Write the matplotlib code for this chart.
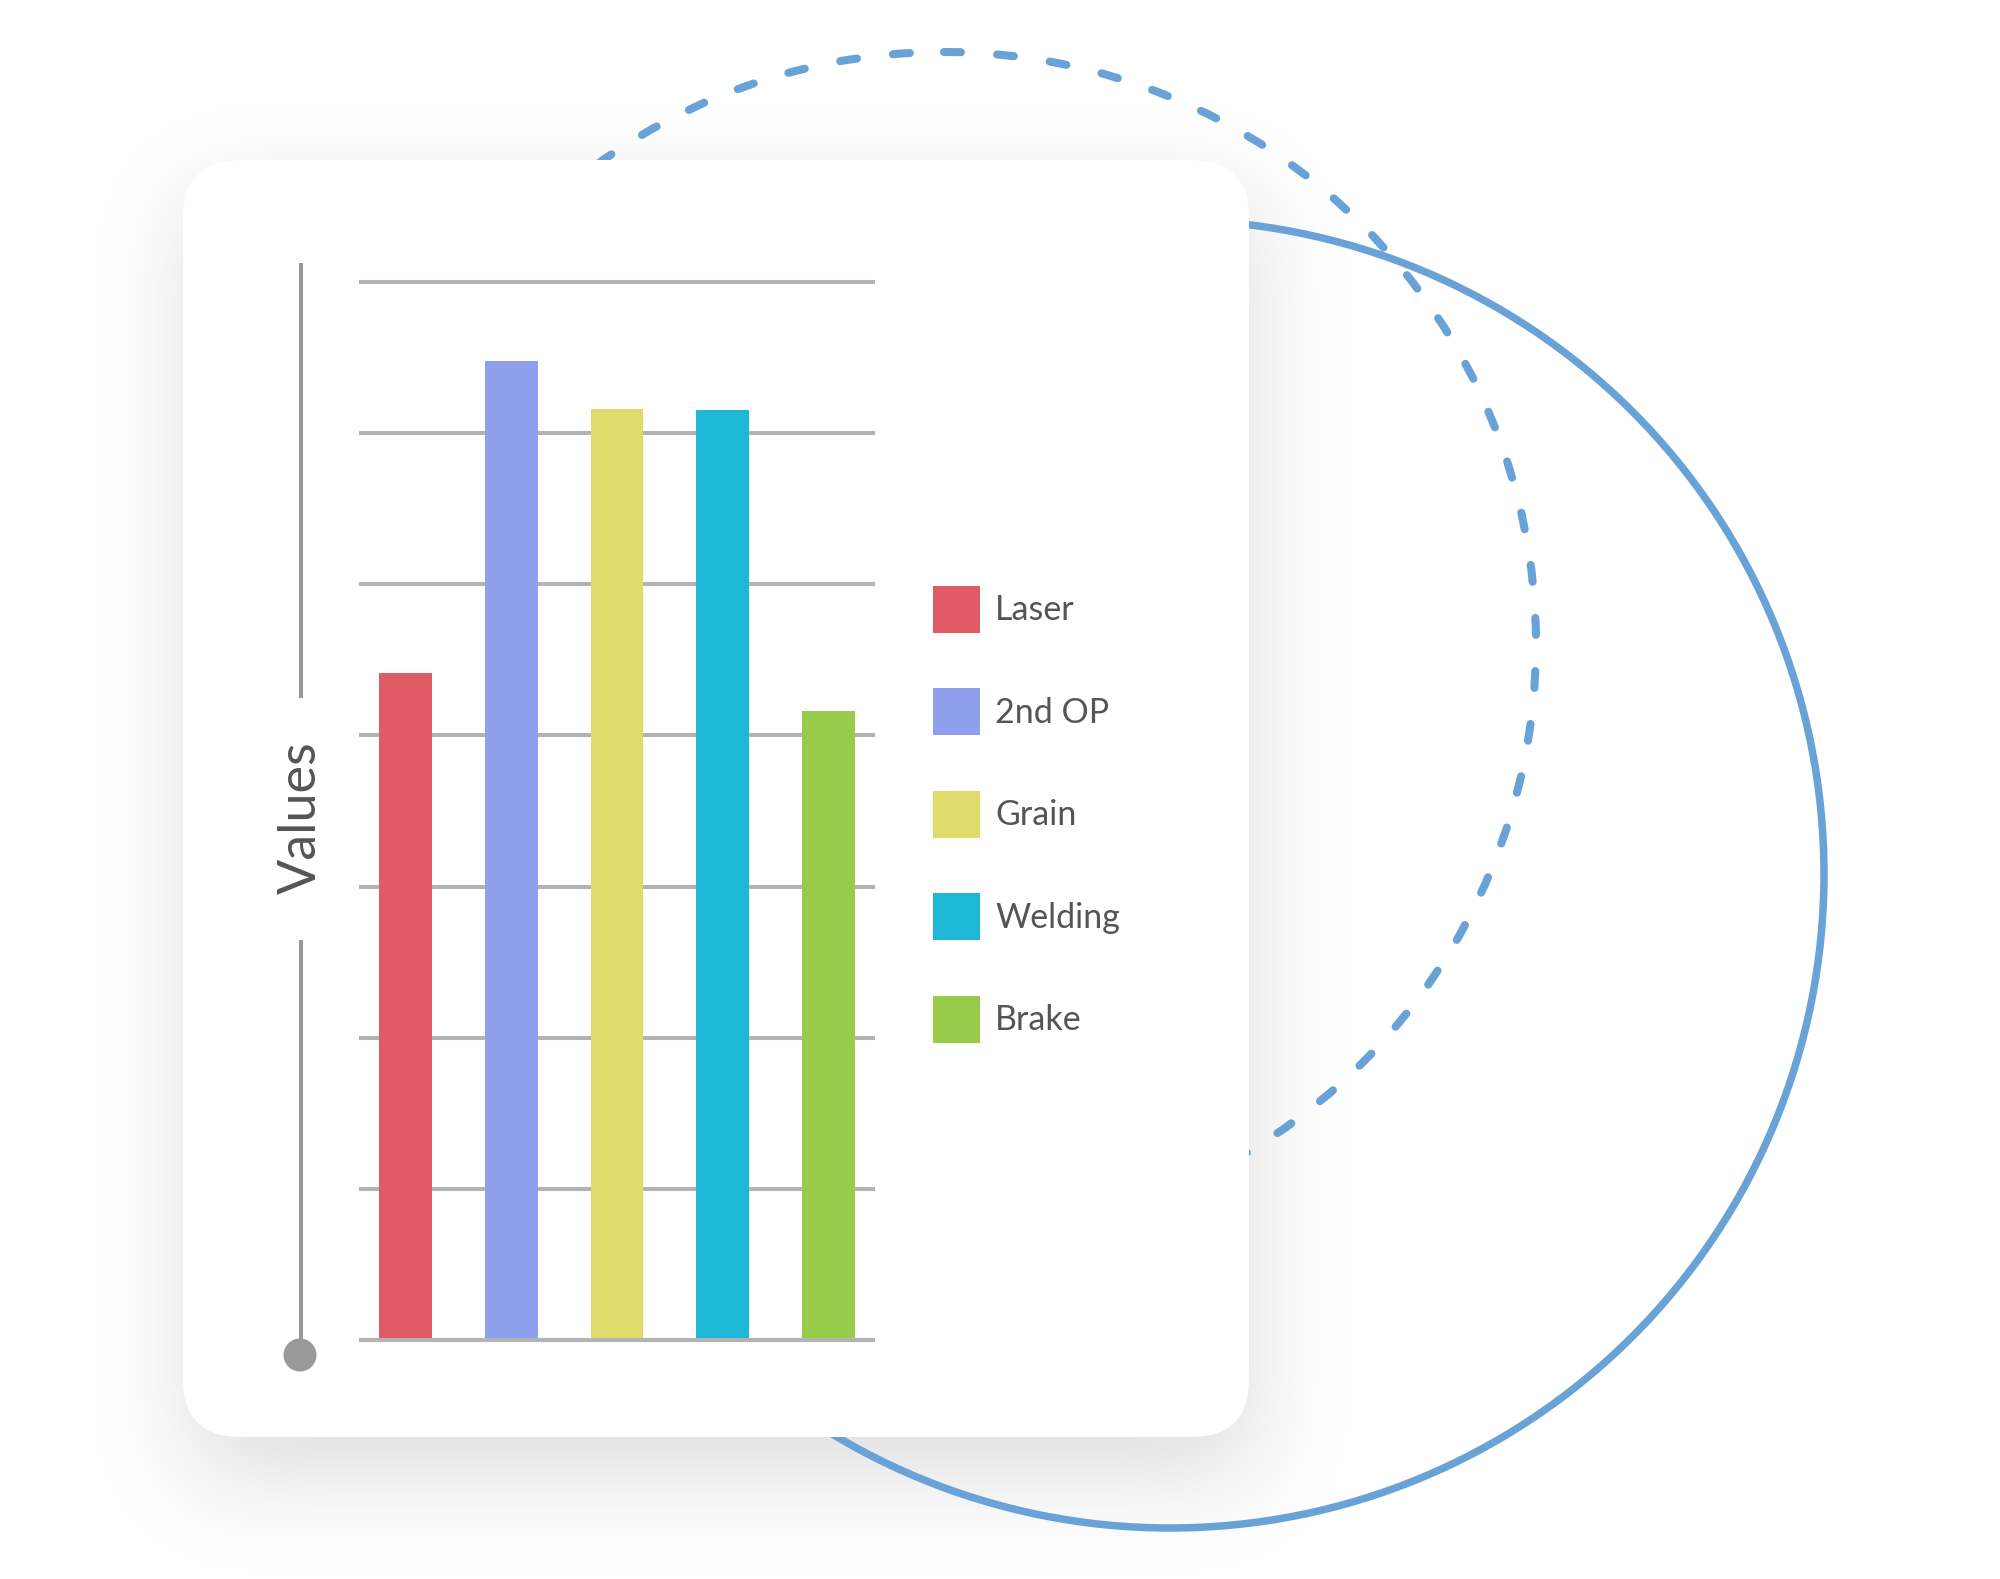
import numpy as np
import matplotlib
matplotlib.use("Agg")
import matplotlib.pyplot as plt
from matplotlib.patches import Circle, FancyBboxPatch
from matplotlib.lines import Line2D

# DATA
categories = ['Laser', '2nd OP', 'Grain', 'Welding', 'Brake']
values = [44.1, 64.8, 61.6, 61.5, 41.6]
bar_colors = ['#e05b66', '#8ea0ec', '#dedb6a', '#1fb7d6', '#99cb4a']
grid_ticks = [0, 10, 20, 30, 40, 50, 60, 70]
axis_title = 'Values'

plt.rcParams['font.family'] = ['Lato', 'DejaVu Sans']

W, H = 2000, 1579
fig = plt.figure(figsize=(W / 100, H / 100), dpi=100)
fig.patch.set_facecolor('white')

# background layer in pixel coords
bg = fig.add_axes([0, 0, 1, 1])
bg.set_xlim(0, W)
bg.set_ylim(H, 0)
bg.axis('off')

# card geometry
cx0, cy0, cx1, cy1 = 183, 160, 1249, 1437

# soft shadow: blurred mask of the card, shifted down a bit
ds = 4
gw, gh = W // ds, H // ds
yy, xx = np.mgrid[0:gh, 0:gw]
sx0, sx1 = (cx0 + 5) / ds, (cx1 + 5) / ds
sy0, sy1 = (cy0 + 35) / ds, (cy1 + 35) / ds
mask = ((xx >= sx0) & (xx <= sx1) & (yy >= sy0) & (yy <= sy1)).astype(float)
sigma = 50 / ds
k = np.arange(-int(3 * sigma), int(3 * sigma) + 1)
kern = np.exp(-0.5 * (k / sigma) ** 2)
kern /= kern.sum()
blur = np.array([np.convolve(r, kern, mode='same') for r in mask])
blur = np.array([np.convolve(c, kern, mode='same') for c in blur.T]).T
shadow = np.zeros((gh, gw, 4))
shadow[..., 3] = 0.13 * blur
bg.imshow(shadow, extent=(0, W, H, 0), interpolation='bilinear', zorder=1, aspect='auto')

# decorative circles behind the card
ring_color = '#68a2d7'
solid = Circle((1170, 874), 654, fill=False, ec=ring_color, lw=5.4, zorder=2)
bg.add_patch(solid)
dashed = Circle((944, 644), 592, fill=False, ec=ring_color, lw=5.8,
                linestyle=(0, (2.1, 4.5)), zorder=2)
dashed.set_capstyle('round')
bg.add_patch(dashed)

# white card
card = FancyBboxPatch((cx0, cy0), cx1 - cx0, cy1 - cy0,
                      boxstyle='round,pad=0,rounding_size=58',
                      fc='white', ec='none', zorder=3)
bg.add_patch(card)

# value axis line with title and end dot
axis_gray = '#999999'
bg.add_line(Line2D([301, 301], [265, 696], color=axis_gray, lw=2.9, zorder=4))
bg.add_line(Line2D([301, 301], [942, 1350], color=axis_gray, lw=2.9, zorder=4))
bg.add_patch(Circle((300, 1355), 16.5, fc=axis_gray, ec='none', zorder=4))
bg.text(301, 818, axis_title, rotation=90, ha='center', va='center',
        fontsize=37.5, color='#555555', fontweight='normal', zorder=5)

# chart axes
top_px, base_px, left_px, right_px = 282, 1340, 361, 873
ax = fig.add_axes([left_px / W, (H - base_px) / H,
                   (right_px - left_px) / W, (base_px - top_px) / H])
ax.patch.set_visible(False)
x = np.arange(len(categories))
bars = []
for i, (cat, v, c) in enumerate(zip(categories, values, bar_colors)):
    b = ax.bar(x[i], v, width=0.5, color=c, label=cat, zorder=2)
    bars.append(b)
ax.set_xlim(-0.42, len(categories) - 1 + 0.42)
ax.set_ylim(grid_ticks[0], grid_ticks[-1])
ax.set_yticks(grid_ticks)
ax.set_xticks([])
ax.tick_params(left=False, labelleft=False)
ax.yaxis.grid(True, color='#b3b3b3', lw=2.9)
ax.set_axisbelow(True)
for gl in ax.get_ygridlines():
    gl.set_clip_on(False)
ax.axhline(grid_ticks[0], color='#b3b3b3', lw=2.9, zorder=3, clip_on=False)
for s in ax.spines.values():
    s.set_visible(False)

# legend: 47px squares, ~102px row pitch
fs = 24.5
fs_px = fs / 72 * 100
hl = 47 / fs_px
hh = (hl - 0.245) / 0.65
leg = fig.legend(handles=[b[0] for b in bars], labels=categories,
                 loc='center left', bbox_to_anchor=(933 / W, (H - 814) / H),
                 frameon=False, fontsize=fs, labelcolor='#555555',
                 handlelength=hl, handleheight=hh, handletextpad=15 / fs_px,
                 labelspacing=(102.5 - 47) / fs_px, borderpad=0, borderaxespad=0)

fig.savefig('out.png', dpi=100, facecolor='white')
